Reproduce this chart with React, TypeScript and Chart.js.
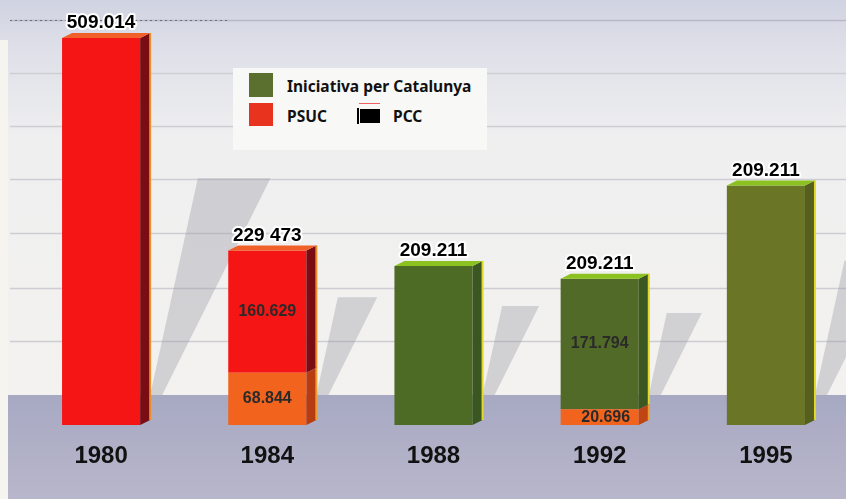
import React, { useEffect, useRef } from 'react';
import { Chart, registerables } from 'chart.js';

Chart.register(...registerables);

// ---------- data ----------
const YEARS = ['1980', '1984', '1988', '1992', '1995'];
const PCC_VOTES = [null, 68844, null, 20696, null];
const PSUC_VOTES = [509014, 160629, null, null, null];
const IC_VOTES = [null, null, 209211, 171794, 315000];
const TOTAL_LABELS = ['509.014', '229 473', '209.211', '209.211', '209.211'];
const PCC_LABELS = [null, '68.844', null, '20.696', null];
const PSUC_LABELS = [null, '160.629', null, null, null];
const IC_LABELS = [null, null, null, '171.794', null];
const GRID_VALUES = [533000, 463000, 393000, 323500, 252500, 180000, 110500];
const FLOOR_VALUE = 39500;
const Y_MAX = 559000;

// ---------- styles ----------
const FRONT = {
  pcc: ['#f2641e', '#f2641e', '#f2641e', '#f2641e', '#f2641e'],
  psuc: ['#f51515', '#f51515', '#f51515', '#f51515', '#f51515'],
  ic: ['#4e6b26', '#4e6b26', '#4e6b26', '#516a27', '#6a7526'],
};
const SIDE = {
  pcc: ['#b83c12', '#b83c12', '#b83c12', '#c04414', '#b83c12'],
  psuc: ['#7a0d14', '#7a0d14', '#7a0d14', '#7a0d14', '#7a0d14'],
  ic: ['#3a5722', '#3a5722', '#3a5722', '#3c5722', '#55601e'],
};
const TOP = { pcc: '#f58a40', psuc: '#f2602a', ic: '#8cc21f' };
const EDGE = { pcc: '#eaa030', psuc: '#e8902c', ic: '#e2d82a' };
const KEYS = ['pcc', 'psuc', 'ic'] as const;
const SEG_LABELS = [PCC_LABELS, PSUC_LABELS, IC_LABELS];
const DEPTH_X = 10;
const DEPTH_Y = 5;

const decorPlugin = {
  id: 'decor',
  beforeDraw(chart: any) {
    const { ctx, width, height } = chart;
    const ys = chart.scales.y;
    const floorY = ys.getPixelForValue(FLOOR_VALUE);
    ctx.save();
    const g = ctx.createLinearGradient(0, 0, 0, floorY);
    g.addColorStop(0, '#d0d3e1');
    g.addColorStop(0.14, '#e0e1e9');
    g.addColorStop(0.35, '#efeff0');
    g.addColorStop(1, '#f3f2ef');
    ctx.fillStyle = g;
    ctx.fillRect(0, 0, width, floorY);
    const fg = ctx.createLinearGradient(0, floorY, 0, height);
    fg.addColorStop(0, '#a7a9c3');
    fg.addColorStop(1, '#b8b6ca');
    ctx.fillStyle = fg;
    ctx.fillRect(0, floorY, width, height - floorY);
    // scan margin on the left
    ctx.fillStyle = '#f6f4ee';
    ctx.fillRect(0, 40, 8, height - 40);
    // grid lines
    GRID_VALUES.forEach((v, i) => {
      const py = Math.round(ys.getPixelForValue(v)) + 0.5;
      ctx.beginPath();
      ctx.strokeStyle = i === 0 ? '#b9bac6' : '#cdcdd3';
      ctx.lineWidth = 1.5;
      ctx.moveTo(10, py);
      ctx.lineTo(width, py);
      ctx.stroke();
      if (i === 0) {
        ctx.beginPath();
        ctx.setLineDash([2, 3]);
        ctx.strokeStyle = '#6d6f7c';
        ctx.lineWidth = 1;
        ctx.moveTo(10, py);
        ctx.lineTo(230, py);
        ctx.stroke();
        ctx.setLineDash([]);
      }
    });
    ctx.restore();
  },
  beforeDatasetsDraw(chart: any) {
    const { ctx } = chart;
    const ys = chart.scales.y;
    const floorY = ys.getPixelForValue(FLOOR_VALUE);
    const n = chart.data.labels.length;
    ctx.save();
    ctx.fillStyle = 'rgba(150,150,160,0.36)';
    for (let i = 0; i < n; i++) {
      let top = Infinity, right = 0, base = 0;
      chart.data.datasets.forEach((ds: any, d: number) => {
        if (ds.data[i] == null) return;
        const el = chart.getDatasetMeta(d).data[i];
        const p = el.getProps(['x', 'y', 'base', 'width'], true);
        top = Math.min(top, p.y);
        right = p.x + p.width / 2;
        base = Math.max(base, p.base);
      });
      if (!isFinite(top)) continue;
      const sideRight = right + DEPTH_X;
      const sh = 0.56 * (base - top);
      const ty = floorY - sh;
      ctx.beginPath();
      ctx.moveTo(sideRight, floorY);
      ctx.lineTo(sideRight + 0.22 * sh, ty);
      ctx.lineTo(sideRight + 12 + 0.5 * sh, ty);
      ctx.lineTo(sideRight + 12, floorY);
      ctx.closePath();
      ctx.fill();
    }
    ctx.restore();
  },
  afterDatasetsDraw(chart: any) {
    const { ctx } = chart;
    const n = chart.data.labels.length;
    ctx.save();
    for (let i = 0; i < n; i++) {
      let topIdx = -1, topY = Infinity, cx = 0, fl = 0, fr = 0;
      chart.data.datasets.forEach((ds: any, d: number) => {
        if (ds.data[i] == null) return;
        const key = KEYS[d];
        const el = chart.getDatasetMeta(d).data[i];
        const p = el.getProps(['x', 'y', 'base', 'width'], true);
        const x1 = p.x + p.width / 2;
        const x0 = p.x - p.width / 2;
        // side face
        ctx.beginPath();
        ctx.moveTo(x1, p.y);
        ctx.lineTo(x1 + DEPTH_X, p.y - DEPTH_Y);
        ctx.lineTo(x1 + DEPTH_X, p.base - DEPTH_Y);
        ctx.lineTo(x1, p.base);
        ctx.closePath();
        ctx.fillStyle = SIDE[key][i];
        ctx.fill();
        // edge highlight
        ctx.beginPath();
        ctx.strokeStyle = EDGE[key];
        ctx.lineWidth = 2;
        ctx.moveTo(x1 + DEPTH_X, p.y - DEPTH_Y);
        ctx.lineTo(x1 + DEPTH_X, p.base - DEPTH_Y);
        ctx.stroke();
        if (p.y < topY) {
          topY = p.y; topIdx = d; cx = p.x; fl = x0; fr = x1;
        }
        // segment label
        const lab = SEG_LABELS[d][i];
        if (lab) {
          ctx.font = 'bold 16px "Liberation Sans", Arial, sans-serif';
          ctx.textAlign = 'center';
          ctx.textBaseline = 'middle';
          ctx.fillStyle = '#2a2a2a';
          ctx.fillText(lab, p.x + (d === 0 && i === 3 ? 6 : 0), (p.y + p.base) / 2);
        }
      });
      if (topIdx < 0) continue;
      // top face
      ctx.beginPath();
      ctx.moveTo(fl, topY);
      ctx.lineTo(fl + DEPTH_X, topY - DEPTH_Y);
      ctx.lineTo(fr + DEPTH_X, topY - DEPTH_Y);
      ctx.lineTo(fr, topY);
      ctx.closePath();
      ctx.fillStyle = TOP[KEYS[topIdx]];
      ctx.fill();
      // total label
      ctx.font = 'bold 19px "Liberation Sans", Arial, sans-serif';
      ctx.textAlign = 'center';
      ctx.textBaseline = 'middle';
      ctx.lineWidth = 4;
      ctx.lineJoin = 'round';
      ctx.strokeStyle = '#ffffff';
      ctx.strokeText(TOTAL_LABELS[i], cx, topY - 15);
      ctx.fillStyle = '#000000';
      ctx.fillText(TOTAL_LABELS[i], cx, topY - 15);
    }
    ctx.restore();
  },
};

const legendText: React.CSSProperties = {
  position: 'absolute',
  font: 'bold 15.5px "Noto Sans", "Liberation Sans", sans-serif',
  color: '#111',
  lineHeight: '18px',
  whiteSpace: 'nowrap',
};

export default function App() {
  const ref = useRef<HTMLCanvasElement | null>(null);
  useEffect(() => {
    if (!ref.current) return;
    const chart = new Chart(ref.current, {
      type: 'bar',
      data: {
        labels: YEARS,
        datasets: [
          { label: 'PCC', data: PCC_VOTES, backgroundColor: FRONT.pcc, borderWidth: 0 },
          { label: 'PSUC', data: PSUC_VOTES, backgroundColor: FRONT.psuc, borderWidth: 0 },
          { label: 'Iniciativa per Catalunya', data: IC_VOTES, backgroundColor: FRONT.ic, borderWidth: 0 },
        ],
      },
      options: {
        animation: false,
        responsive: false,
        devicePixelRatio: 1,
        layout: { padding: { left: 18, right: 11, top: 0, bottom: 0 } },
        datasets: { bar: { categoryPercentage: 1, barPercentage: 0.47 } },
        plugins: { legend: { display: false }, tooltip: { enabled: false } },
        scales: {
          x: {
            stacked: true,
            grid: { display: false },
            border: { display: false },
            ticks: {
              color: '#111',
              padding: 9,
              font: { family: '"Liberation Sans Narrow", "Liberation Sans", Arial, sans-serif', weight: 'bold', size: 24 },
            },
            afterFit: (s: any) => { s.height = 74; },
          },
          y: {
            stacked: true,
            display: false,
            min: 0,
            max: Y_MAX,
          },
        },
      },
      plugins: [decorPlugin],
    } as any);
    return () => chart.destroy();
  }, []);

  return (
    <div style={{ position: 'fixed', left: 0, top: 0, width: 846, height: 499, overflow: 'hidden' }}>
      <canvas ref={ref} width={860} height={499} style={{ display: 'block', width: 860, height: 499 }} />
      <div style={{ position: 'absolute', left: 233, top: 68, width: 254, height: 82, background: '#f8f8f6' }} />
      <div style={{ position: 'absolute', left: 249, top: 73, width: 24, height: 24, background: '#5b6f2e' }} />
      <div style={{ ...legendText, left: 287, top: 77 }}>Iniciativa per Catalunya</div>
      <div style={{ position: 'absolute', left: 249, top: 103, width: 24, height: 23, background: '#e8341f' }} />
      <div style={{ ...legendText, left: 287, top: 107 }}>PSUC</div>
      <div style={{ position: 'absolute', left: 357, top: 108, width: 2, height: 16, background: '#000' }} />
      <div style={{ position: 'absolute', left: 360, top: 109, width: 20, height: 14, background: '#000' }} />
      <div style={{ position: 'absolute', left: 359, top: 103, width: 21, height: 1, background: '#f06060' }} />
      <div style={{ ...legendText, left: 393, top: 107 }}>PCC</div>
    </div>
  );
}
